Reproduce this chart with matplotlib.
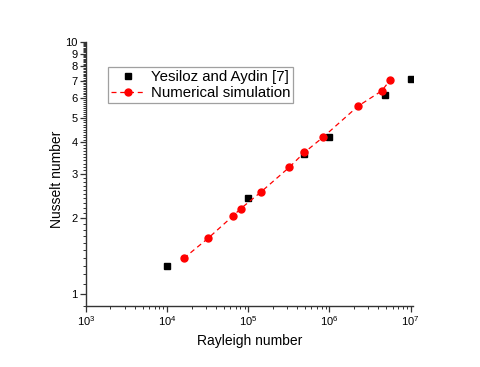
import numpy as np
import matplotlib
matplotlib.use('Agg')
import matplotlib.pyplot as plt
from matplotlib.ticker import FixedLocator, FixedFormatter, NullFormatter, LogLocator

plt.rcParams['font.family'] = ['Liberation Sans', 'DejaVu Sans']
plt.rcParams['mathtext.fontset'] = 'custom'
plt.rcParams['mathtext.rm'] = 'Liberation Sans'
plt.rcParams['mathtext.default'] = 'regular'

# data
ra_exp = [1.0e4, 1.0e5, 4.8e5, 1.0e6, 4.8e6, 1.0e7]
nu_exp = [1.30, 2.40, 3.59, 4.20, 6.16, 7.13]

ra_num = [1.6e4, 3.2e4, 6.4e4, 8.1e4, 1.42e5, 3.2e5, 4.9e5, 8.3e5, 2.25e6, 4.4e6, 5.6e6]
nu_num = [1.39, 1.67, 2.04, 2.19, 2.54, 3.19, 3.65, 4.19, 5.57, 6.40, 7.07]

y_major = [1, 2, 3, 4, 5, 6, 7, 8, 9, 10]
y_labels = [str(v) for v in y_major]

fig = plt.figure(figsize=(4.8, 3.67), dpi=100)
ax = fig.add_axes([0.1792, 0.1662, 0.6812, 0.7194])

ax.plot(ra_exp, nu_exp, linestyle='none', marker='s', markersize=4.2,
        color='black', label='Yesiloz and Aydin [7]')
ax.plot(ra_num, nu_num, linestyle=(0, (4, 3)), linewidth=0.9, marker='o',
        markersize=5.0, color='red', label='Numerical simulation')

ax.set_xscale('log')
ax.set_yscale('log')
ax.set_xlim(1e3, 1.07e7)
ax.set_ylim(0.9, 10)

ax.xaxis.set_major_locator(LogLocator(base=10, numticks=10))
ax.xaxis.set_minor_locator(LogLocator(base=10, subs=np.arange(2, 10), numticks=10))
ax.xaxis.set_minor_formatter(NullFormatter())

ax.yaxis.set_major_locator(FixedLocator(y_major))
ax.yaxis.set_major_formatter(FixedFormatter(y_labels))
ax.yaxis.set_minor_locator(FixedLocator(np.arange(0.9, 10.0, 0.1)))
ax.yaxis.set_minor_formatter(NullFormatter())

for side in ['top', 'right']:
    ax.spines[side].set_visible(False)
for side in ['left', 'bottom']:
    ax.spines[side].set_linewidth(1.0)
    ax.spines[side].set_color('#333333')

ax.tick_params(which='major', direction='out', length=4, width=0.9,
               labelsize=8, pad=2, color='#333333')
ax.tick_params(which='minor', direction='out', length=2.2, width=0.7, color='#333333')

ax.set_xlabel('Rayleigh number', fontsize=10, labelpad=4)
ax.set_ylabel('Nusselt number', fontsize=10)
ax.yaxis.set_label_coords(-0.068, 0.48)

leg = ax.legend(loc='upper left', bbox_to_anchor=(0.066, 0.905), fontsize=10.8,
                frameon=True, fancybox=False, edgecolor='#888888',
                handlelength=2.3, handletextpad=0.35, borderpad=0.22,
                labelspacing=0.12, borderaxespad=0)
leg.get_frame().set_linewidth(0.9)

fig.savefig('out.png', dpi=100)
